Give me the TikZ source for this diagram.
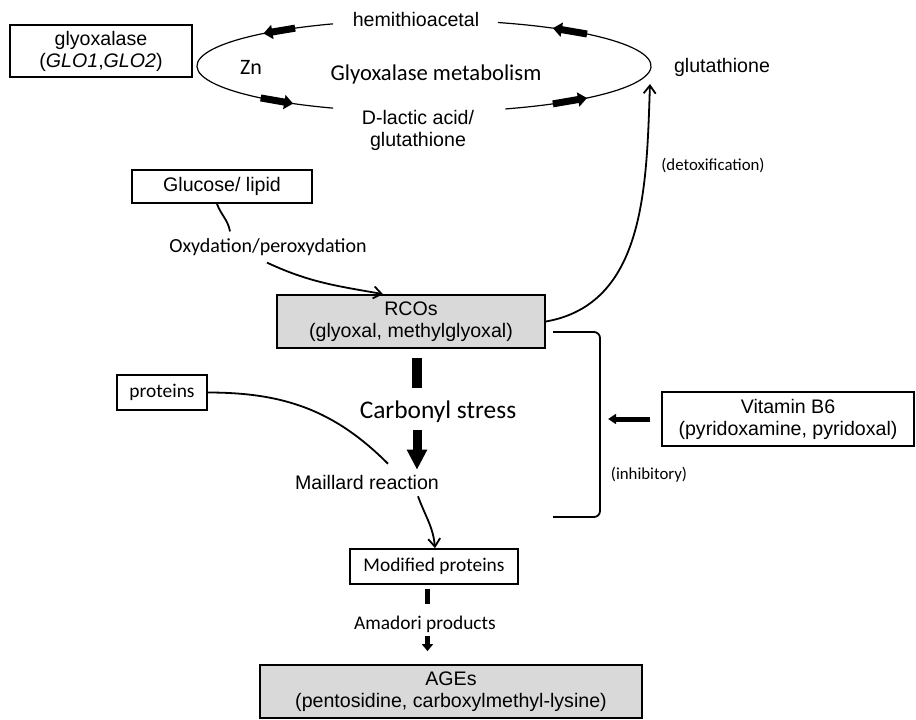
\documentclass[tikz,border=0pt]{standalone}
\usepackage{fontspec}
\setmainfont{Liberation Sans}
\newfontfamily\calibri{Carlito}
\usetikzlibrary{arrows.meta}
\newcommand{\arial}{\fontsize{9.8}{11}\selectfont}
\newcommand{\calsize}{\calibri\fontsize{9.7}{11}\selectfont}

\begin{document}
\begin{tikzpicture}[x=0.5pt, y=0.5pt,
  box/.style={draw, line width=0.9pt, inner sep=0pt, align=center, font=\arial},
  greybox/.style={box, fill=gray!30},
  arl/.style={font=\arial, align=center},
  cal/.style={font=\calsize},
  small/.style={font=\calibri\fontsize{8.4}{10}\selectfont},
  curve/.style={line width=0.9pt},
  ring/.style={line width=0.6pt},
  barb/.style={curve, -{Straight Barb[length=4pt,width=6pt]}},
  blockarrow/.style={line width=3.5pt, -{Triangle[length=4.5pt,width=7pt]}}]

\useasboundingbox (0,0) rectangle (916,-719);

% glyoxalase cycle
\coordinate (gc) at (424,-66);
\draw[ring] (gc) ++(113.6:113.5pt and 23pt) arc[start angle=113.6, end angle=246.4, x radius=113.5pt, y radius=23pt];
\draw[ring] (gc) ++(71:113.5pt and 23pt) arc[start angle=71, end angle=-69, x radius=113.5pt, y radius=23pt];
\foreach \a/\b in {124.6/135, 224/234.8, 44.1/55.4, -55.4/-44.1}
  \draw[blockarrow] ([shift={(gc)}]\a:113.5pt and 23pt) -- ([shift={(gc)}]\b:113.5pt and 23pt);

\node[box, minimum width=91pt, minimum height=26pt] (glo) at (101,-51) {glyoxalase\\(\textit{GLO1},\textit{GLO2}\/)};
\node[arl] (hemi) at (416,-19) {hemithioacetal};
\node[font=\calibri\fontsize{11}{13}\selectfont] (zn) at (251,-67) {Zn};
\node[font=\calibri\fontsize{11.3}{13}\selectfont] (glymet) at (436,-74) {Glyoxalase metabolism};
\node[arl] (dlac) at (418,-130) {D-lactic acid/\\glutathione};
\node[arl] (glut) at (722,-67) {glutathione};
\coordinate (gtip) at (650,-84);
\node[small] (detox) at (713,-166) {(detoxification)};

% carbonyl stress
\node[box, minimum width=90pt, minimum height=16.5pt] (gluc) at (222,-186.5) {Glucose/ lipid};
\node[font=\calibri\fontsize{10}{12}\selectfont] (oxy) at (268,-247) {Oxydation/peroxydation};
\node[greybox, minimum width=134pt, minimum height=26.5pt] (rco) at (411,-321.5) {RCOs\\(glyoxal, methylglyoxal)};
\node[box, cal, minimum width=45pt, minimum height=17.5pt] (prot) at (162,-392.5) {proteins};
\node[font=\calibri\fontsize{12.7}{15}\selectfont] (carb) at (438,-412) {Carbonyl stress};
\node[arl] (mail) at (367,-482) {Maillard reaction};
\node[box, minimum width=126pt, minimum height=27pt] (vit) at (788,-419) {Vitamin B6\\(pyridoxamine, pyridoxal)};
\node[small] (inhib) at (649,-475) {(inhibitory)};
\node[box, cal, minimum width=84pt, minimum height=17.5pt] (mod) at (434,-566.5) {Modified proteins};
\node[cal] (amad) at (425,-624) {Amadori products};
\node[greybox, minimum width=191pt, minimum height=26.5pt] (age) at (451,-691.5) {AGEs\\(pentosidine, carboxylmethyl-lysine)};

\draw[curve] ([xshift=-2.5pt]gluc.south) to[out=-70,in=100] ([xshift=-19pt]oxy.north);
\draw[barb] ([xshift=-0.5pt]oxy.south) to[out=-25,in=170] ([xshift=-14pt]rco.north);
\draw[barb] (rco.east) to[out=10,in=-92] (gtip);

\coordinate (brtop) at (553,-332);
\coordinate (brbot) at (553,-517);
\draw[curve, rounded corners=3pt] (brtop) -| (600,-517) -- (brbot);
\draw[line width=2.5pt, -{Triangle[length=4pt,width=5pt]}] ([xshift=-5.5pt]vit.west) -- ++(-42,0);

\draw[line width=5pt] ([xshift=3pt,yshift=-4.5pt]rco.south) -- ++(0,-30);
\draw[line width=4.5pt, -{Triangle[length=10pt,width=9.5pt]}] ([xshift=-10.5pt]carb.south) -- ([xshift=25pt,yshift=-1pt]mail.north);
\draw[curve] (prot.east) to[out=0,in=135] ([xshift=10.5pt,yshift=2pt]mail.north);
\draw[barb] ([xshift=25.5pt]mail.south) to[out=-70,in=95] ([xshift=0.5pt]mod.north);

\draw[line width=2.5pt] ([xshift=-3.25pt,yshift=-2pt]mod.south) -- ++(0,-15);
\draw[line width=2.5pt, -{Triangle[length=3.5pt,width=5.5pt]}] ([xshift=1.25pt,yshift=1.5pt]amad.south) -- ([xshift=-11.75pt,yshift=6.5pt]age.north);

\end{tikzpicture}
\end{document}
